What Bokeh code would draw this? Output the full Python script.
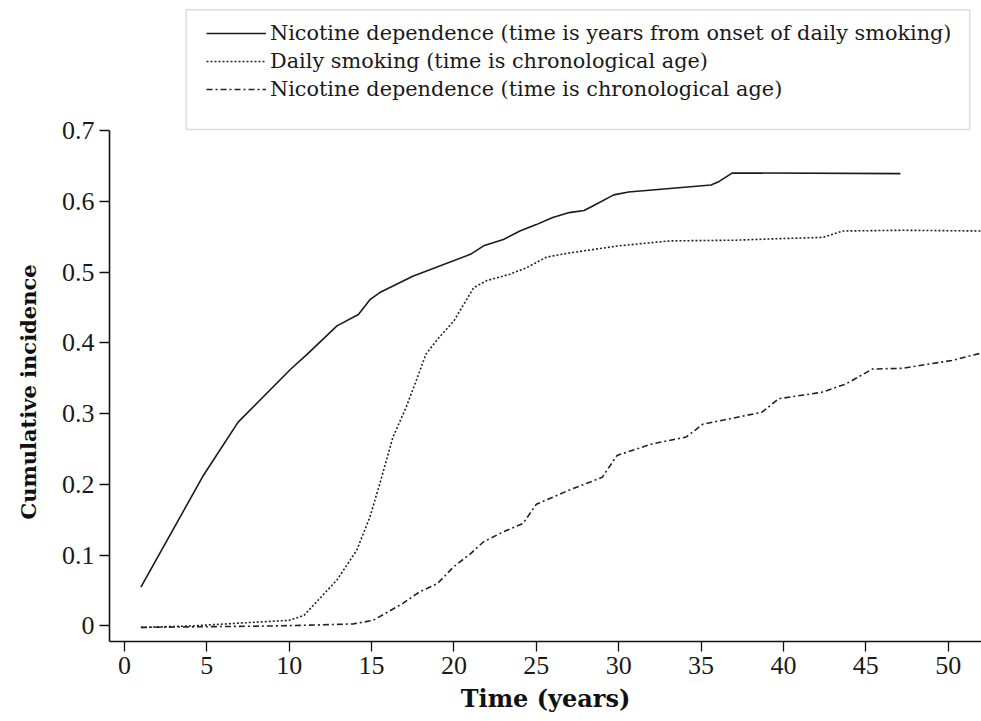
from bokeh.plotting import figure
from bokeh.models import Range1d, FixedTicker, Legend, LegendItem, BoxAnnotation, Title
from bokeh.embed import file_html
from bokeh.resources import INLINE

# --- data ---
nd_onset_x = [1, 4.8, 6.9, 8.1, 10.1, 11.1, 12.9, 14.2, 14.9, 15.5, 17.5, 21.0, 21.8, 23.0,
              24.0, 25.0, 26.0, 27.0, 27.9, 28.4, 29.7, 30.6, 33.1, 35.6, 36.1, 36.9, 47.1]
nd_onset_y = [0.055, 0.213, 0.288, 0.316, 0.363, 0.384, 0.424, 0.440, 0.461, 0.471, 0.494, 0.525,
              0.537, 0.546, 0.558, 0.567, 0.577, 0.584, 0.587, 0.593, 0.609, 0.613, 0.618, 0.623,
              0.628, 0.640, 0.639]

ds_x = [1, 4, 6.9, 10.0, 10.9, 11.5, 12.9, 14.1, 14.9, 15.5, 16.3, 17.1, 17.7, 18.3, 19.0, 20.0,
        21.2, 22.0, 23.4, 24.4, 25.6, 27.0, 30.0, 33.1, 37.1, 39.5, 42.4, 43.6, 47.2, 52.1]
ds_y = [-0.002, 0.0, 0.004, 0.008, 0.015, 0.030, 0.065, 0.107, 0.154, 0.201, 0.267, 0.309, 0.346,
        0.384, 0.405, 0.431, 0.478, 0.488, 0.497, 0.506, 0.521, 0.527, 0.537, 0.544, 0.545, 0.547,
        0.549, 0.558, 0.559, 0.558]

nc_x = [1, 8.9, 10.9, 13.9, 15.1, 16.9, 17.9, 19.0, 20.0, 21.0, 21.8, 23.0, 24.2, 25.0, 27.0,
        29.0, 29.9, 32.0, 34.1, 35.1, 38.7, 39.7, 42.3, 43.8, 45.4, 47.2, 50.2, 52.1]
nc_y = [-0.002, 0.0, 0.001, 0.003, 0.008, 0.032, 0.048, 0.060, 0.084, 0.102, 0.119, 0.133, 0.145,
        0.172, 0.192, 0.210, 0.241, 0.257, 0.267, 0.285, 0.302, 0.321, 0.330, 0.342, 0.363, 0.364,
        0.375, 0.386]

labels = ["Nicotine dependence (time is years from onset of daily smoking)",
          "Daily smoking (time is chronological age)",
          "Nicotine dependence (time is chronological age)"]

x_ticks = [0, 5, 10, 15, 20, 25, 30, 35, 40, 45, 50]
y_ticks = [0, 0.1, 0.2, 0.3, 0.4, 0.5, 0.6, 0.7]
y_tick_labels = ["0", "0.1", "0.2", "0.3", "0.4", "0.5", "0.6", "0.7"]

SERIF = "DejaVu Serif"
TICK_FONT = "Liberation Serif"
Y_MIN, Y_AXIS_TOP, Y_MAX = -0.0219, 0.7, 0.8836

p = figure(width=981, height=721, output_backend="svg", toolbar_location=None,
           x_range=Range1d(-0.906, 52.02), y_range=Range1d(Y_MIN, Y_MAX),
           min_border_left=105, min_border_right=0, min_border_top=0, min_border_bottom=80)
p.outline_line_color = None
p.grid.visible = False
p.background_fill_color = "white"
p.border_fill_color = "white"

r1 = p.line(nd_onset_x, nd_onset_y, line_color="#1a1a1a", line_width=1.6)
r2 = p.line(ds_x, ds_y, line_color="#222222", line_width=1.6, line_dash="2 2")
r3 = p.line(nc_x, nc_y, line_color="#222222", line_width=1.6, line_dash="6 3 2 3")

for ax in (p.xaxis[0], p.yaxis[0]):
    ax.axis_line_color = "#111111"
    ax.axis_line_width = 1.6
    ax.major_tick_line_color = "#111111"
    ax.major_tick_line_width = 1.3
    ax.major_tick_out = 10
    ax.major_tick_in = 0
    ax.minor_tick_out = 0
    ax.minor_tick_in = 0
    ax.major_label_text_font = TICK_FONT
    ax.major_label_text_font_size = "26px"
    ax.major_label_text_color = "#1a1a1a"
    ax.axis_label_text_font = SERIF
    ax.axis_label_text_font_style = "bold"
    ax.axis_label_text_color = "#111111"

p.xaxis.ticker = FixedTicker(ticks=x_ticks)
p.yaxis.ticker = FixedTicker(ticks=y_ticks)
p.yaxis.major_label_overrides = {t: l for t, l in zip(y_ticks, y_tick_labels)}
p.yaxis.bounds = (Y_MIN, Y_AXIS_TOP)
p.xaxis.major_label_standoff = 5
p.yaxis.major_label_standoff = 5

p.xaxis.axis_label = "Time (years)"
p.xaxis.axis_label_text_font_size = "24px"
p.xaxis.axis_label_standoff = 7

# y-axis title, centred on the bounded part of the axis (0 .. 0.7)
ytitle = Title(text="Cumulative incidence", align="left", vertical_align="top",
               offset=122, standoff=31,
               text_font=SERIF, text_font_style="bold", text_font_size="21px",
               text_color="#111111")
p.add_layout(ytitle, "left")

legend = Legend(items=[LegendItem(label=labels[0], renderers=[r1]),
                       LegendItem(label=labels[1], renderers=[r2]),
                       LegendItem(label=labels[2], renderers=[r3])],
                location=(97, 540), padding=0, margin=0, spacing=4,
                glyph_width=60, glyph_height=20, label_height=20, label_standoff=4,
                label_text_font=SERIF, label_text_font_size="20.8px", label_text_color="#1a1a1a",
                border_line_color=None, background_fill_alpha=0)
p.add_layout(legend)

box = BoxAnnotation(left=3.746, right=51.30, top=0.8705, bottom=0.7014,
                    fill_alpha=0, line_color="#8a8a8a", line_width=1.5)
p.add_layout(box)

open("out.html", "w").write(file_html(p, INLINE))
